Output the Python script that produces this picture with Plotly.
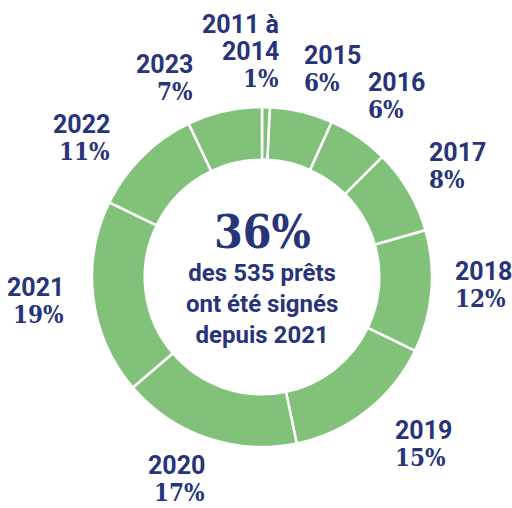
import math
import plotly.graph_objects as go

# ---- data ----
years = ["2011 à<br>2014", "2015", "2016", "2017", "2018", "2019", "2020", "2021", "2022", "2023"]
loans = [4, 32, 31, 43, 62, 78, 91, 99, 57, 38]          # estimated loan counts (total 535)
pct_labels = ["1%", "6%", "6%", "8%", "12%", "15%", "17%", "19%", "11%", "7%"]
headline = "36%"
subtitle = ["des 535 prêts", "ont été signés", "depuis 2021"]

# ---- layout / style ----
W, H = 512, 508
CX, CY, R = 262, 277, 170        # donut centre and outer radius in px
HOLE = 0.69
label_r = [226, 219, 224, 223, 219, 231, 218, 225, 226, 221]
angle_nudge = [-3.6, 4.6, 1.5, 0.6, -2.8, -5.6, 3.4, 1.2, -7.3, -12.7]
HALF_W = 28          # half width of a label block
LINE_H = 27          # line spacing inside a label block
GREEN = "#82C17A"
NAVY = "#28347A"
SANS = "Roboto"
SERIF = "DejaVu Serif Condensed"


def px2paper(x, y):
    return x / W, 1 - y / H


fig = go.Figure()
x0, y0 = px2paper(CX - R, CY + R)
x1, y1 = px2paper(CX + R, CY - R)
fig.add_trace(go.Pie(
    labels=[y.replace("<br>", " ") for y in years],
    values=loans,
    sort=False,
    direction="clockwise",
    rotation=0,
    hole=HOLE,
    textinfo="none",
    hoverinfo="skip",
    marker=dict(colors=[GREEN] * len(loans), line=dict(color="white", width=2.5)),
    domain=dict(x=[x0, x1], y=[y0, y1]),
    showlegend=False,
))

total = sum(loans)
cum = 0
annotations = []
for i, (yr, v, p) in enumerate(zip(years, loans, pct_labels)):
    mid = (cum + v / 2) / total * 360 + angle_nudge[i]
    cum += v
    a = math.radians(mid)
    lx = CX + label_r[i] * math.sin(a)
    ly = CY - label_r[i] * math.cos(a)
    right_side = math.sin(a) > 0
    ex = lx - HALF_W if right_side else lx + HALF_W
    anchor = "left" if right_side else "right"
    lines = [(f"<b>{s}</b>", SANS, 25) for s in yr.split("<br>")] + [(f"<b>{p}</b>", SERIF, 24)]
    n = len(lines)
    for k, (txt, fam, size) in enumerate(lines):
        yy = ly + (k - (n - 1) / 2) * LINE_H
        px, py = px2paper(ex, yy)
        annotations.append(dict(
            x=px, y=py, xref="paper", yref="paper", text=txt, showarrow=False,
            xanchor=anchor, yanchor="middle", align=anchor,
            font=dict(family=fam, size=size, color=NAVY),
        ))

hx, hy = px2paper(CX, 232)
annotations.append(dict(
    x=hx, y=hy, xref="paper", yref="paper", text=f"<b>{headline}</b>", showarrow=False,
    xanchor="center", yanchor="middle",
    font=dict(family=SERIF, size=46, color=NAVY),
))
sx, sy = px2paper(CX, 304)
annotations.append(dict(
    x=sx, y=sy, xref="paper", yref="paper", text="<br>".join(f"<b>{s}</b>" for s in subtitle),
    showarrow=False, xanchor="center", yanchor="middle", align="center",
    font=dict(family=SANS, size=24, color=NAVY),
))

fig.update_layout(
    width=W, height=H,
    margin=dict(l=0, r=0, t=0, b=0),
    paper_bgcolor="white", plot_bgcolor="white",
    annotations=annotations,
)

fig.write_html(
    "out.html",
    config={"displayModeBar": False},
    post_script="document.body.style.margin='0';document.body.style.overflow='hidden';",
)
